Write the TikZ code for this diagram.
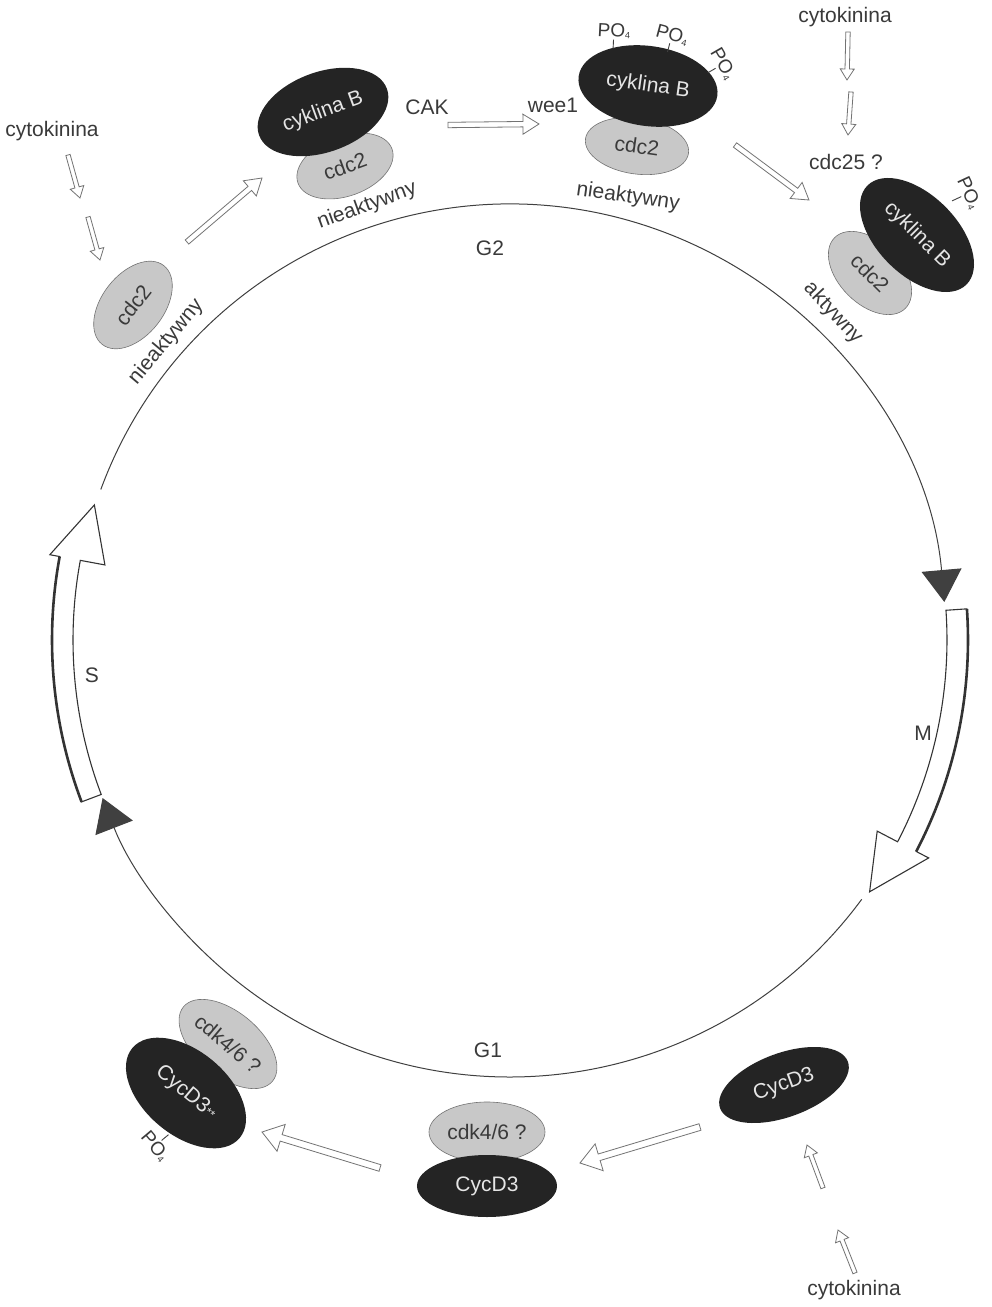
\documentclass[tikz,border=0pt]{standalone}
\usepackage{fontspec}
\setmainfont{Liberation Sans}
\usepackage{tikz}
\usetikzlibrary{shapes.geometric,arrows.meta,positioning,calc}
\definecolor{cycdark}{RGB}{36,36,36}
\definecolor{cdklight}{RGB}{200,200,200}
\definecolor{inkgray}{RGB}{58,58,58}
\newcommand{\phos}{PO\raisebox{-1.5pt}{\fontsize{9}{9}\selectfont 4}}

\tikzset{
  lbl/.style={font=\fontsize{21}{25}\selectfont, text=inkgray, inner sep=1pt},
  phoslbl/.style={font=\fontsize{19}{22}\selectfont, text=inkgray, inner sep=1pt},
  darkcyc/.style={ellipse, fill=cycdark, text=white!90!black, inner sep=0pt, font=\fontsize{21}{25}\selectfont},
  lightcdk/.style={ellipse, draw=black!55, line width=0.6pt, fill=cdklight, text=inkgray, inner sep=0pt, font=\fontsize{21}{25}\selectfont},
  cycleline/.style={draw=black!75, line width=1pt},
  band/.style={draw=black!80, line width=1.1pt, fill=white, line join=miter},
  bandedge/.style={draw=black!80, line width=2.6pt},
  tickline/.style={draw=black!75, line width=0.9pt},
  % hollow straight arrows: half shaft, head length, half head
  hollow/.style n args={3}{draw=black!55, fill=white, line width=0.8pt, line join=miter,
    to path={($(\tikztostart)!#1!-90:(\tikztotarget)$)
      -- ($(\tikztotarget)!#2!(\tikztostart)!#1!-90:(\tikztotarget)$)
      -- ($(\tikztotarget)!#2!(\tikztostart)!#3!-90:(\tikztotarget)$)
      -- (\tikztotarget)
      -- ($(\tikztotarget)!#2!(\tikztostart)!#3!90:(\tikztotarget)$)
      -- ($(\tikztotarget)!#2!(\tikztostart)!#1!90:(\tikztotarget)$)
      -- ($(\tikztostart)!#1!90:(\tikztotarget)$) -- cycle}},
  smallarrow/.style={hollow={2.2pt}{11pt}{7pt}},
  midarrow/.style={hollow={2.7pt}{16pt}{10pt}},
  bigarrow/.style={hollow={3.4pt}{20pt}{14pt}},
}

\begin{document}
\begin{tikzpicture}[x=1pt, y=1pt]
	\useasboundingbox[fill=white] (-510,-667) rectangle (481,640);
	
	% cell cycle
	\draw[cycleline, -{Triangle[length=32pt,width=40pt]}] (159.8:436) arc[start angle=159.8, end angle=5, radius=436];
	\draw[cycleline, -{Triangle[length=32pt,width=40pt]}] (-36.4:437) arc[start angle=-36.4, end angle=-158.8, radius=437];
	\draw[band] (200.7:437) arc[start angle=200.7, end angle=169.5, radius=437] -- (169.5:412) -- (162:437) -- (169.5:468) -- (169.5:458) arc[start angle=169.5, end angle=200.7, radius=458] -- cycle;
	\draw[bandedge] (169.5:458) arc[start angle=169.5, end angle=200.7, radius=458];
	\draw[band] (3.9:437) arc[start angle=3.9, end angle=-27.5, radius=437] -- (-27.5:414) -- (-35:439) -- (-27.5:472) -- (-27.5:458) arc[start angle=-27.5, end angle=3.9, radius=458] -- cycle;
	\draw[bandedge] (-27.5:458) arc[start angle=-27.5, end angle=3.9, radius=458];
	
	\node[lbl] (gtwo) at (-20,392) {G2};
	\node[lbl] (mphase) at (413,-93) {M};
	\node[lbl] (gone) at (-22,-410) {G1};
	\node[lbl] (sphase) at (-418,-35) {S};
	
	% G2: cdc2 + cyklina B
	\node[lbl] (cytA) at (-458,509) {cytokinina};
	\node[lightcdk, minimum width=100pt, minimum height=62pt, rotate=52] (cdcfree) at (-377,335) {cdc2};
	\node[lbl, rotate=50] (nieA) at (-344,298) {nieaktywny};
	
	\node[lightcdk, minimum width=100pt, minimum height=60pt, rotate=20] (cdcA) at (-165,474) {cdc2};
	\node[darkcyc, minimum width=136pt, minimum height=80pt, rotate=20] (cykA) at (-187,528) {cyklina B};
	\node[lbl, rotate=20] (nieB) at (-143,434) {nieaktywny};
	\node[lbl] (cak) at (-83,533) {CAK};
	\node[lbl] (wee) at (43,535) {wee1};
	
	\node[lightcdk, minimum width=104pt, minimum height=56pt, rotate=-8] (cdcB) at (127,494) {cdc2};
	\node[darkcyc, minimum width=140pt, minimum height=80pt, rotate=-8] (cykB) at (138,554) {cyklina B};
	\node[lbl, rotate=-8] (nieC) at (118,443) {nieaktywny};
	\node[phoslbl, rotate=-3] (poA) at (104,609) {\phos};
	\node[phoslbl, rotate=-15] (poB) at (162,605) {\phos};
	\node[phoslbl, rotate=-60] (poC) at (213,576) {\phos};
	\draw[tickline] (poA.south) -- ($(poA.south)!-9pt!(poA.center)$);
	\draw[tickline] (poB.south) -- ($(poB.south)!-9pt!(poB.center)$);
	\draw[tickline] (poC.south) -- ($(poC.south)!-9pt!(poC.center)$);
	
	\node[lbl] (cytB) at (335,623) {cytokinina};
	\node[lbl] (cdcq) at (336,478) {cdc25 ?};
	\node[lightcdk, minimum width=100pt, minimum height=62pt, rotate=-45] (cdcC) at (360,367) {cdc2};
	\node[darkcyc, minimum width=140pt, minimum height=80pt, rotate=-45] (cykC) at (407,405) {cyklina B};
	\node[lbl, rotate=-47] (akt) at (323,327) {aktywny};
	\node[phoslbl, rotate=-65] (poE) at (459,447) {\phos};
	\draw[tickline] (poE.south) -- ($(poE.south)!-10pt!(poE.center)$);
	
	% G1: CycD3 + cdk4/6
	\node[darkcyc, minimum width=136pt, minimum height=64pt, rotate=20] (cycA) at (274,-445) {CycD3};
	\node[lbl] (cytC) at (344,-650) {cytokinina};
	\node[lightcdk, minimum width=116pt, minimum height=60pt] (cdkA) at (-23,-492) {cdk4/6 ?};
	\node[darkcyc, minimum width=140pt, minimum height=62pt] (cycB) at (-23,-546) {CycD3};
	\node[lightcdk, minimum width=116pt, minimum height=64pt, rotate=-40] (cdkB) at (-282,-404) {cdk4/6 ?};
	\node[darkcyc, minimum width=140pt, minimum height=84pt, rotate=-40] (cycC) at (-324,-453) {CycD3\raisebox{1pt}{\fontsize{12}{12}\selectfont **}};
	\node[phoslbl, rotate=-50] (poD) at (-355,-506) {\phos};
	\draw[tickline] (poD.north) -- ($(poD.north)!-9pt!(poD.center)$);
	
	% hollow arrows
	\coordinate (h1s) at (-442,485); \coordinate (h1e) at (-430,442);
	\coordinate (h2s) at (-422,423); \coordinate (h2e) at (-410,380);
	\coordinate (h3s) at (-323,398); \coordinate (h3e) at (-248,462);
	\coordinate (h4s) at (-62,515);  \coordinate (h4e) at (29,516);
	\coordinate (h5s) at (225,495);  \coordinate (h5e) at (299,440);
	\coordinate (h6s) at (338,608);  \coordinate (h6e) at (337,560);
	\coordinate (h7s) at (341,548);  \coordinate (h7e) at (338,505);
	\coordinate (h8s) at (-130,-528); \coordinate (h8e) at (-248,-492);
	\coordinate (h9s) at (190,-487); \coordinate (h9e) at (70,-523);
	\coordinate (h10s) at (313,-548); \coordinate (h10e) at (297,-505);
	\coordinate (h11s) at (345,-633); \coordinate (h11e) at (328,-590);
	\draw[smallarrow] (h1s) to (h1e);
	\draw[smallarrow] (h2s) to (h2e);
	\draw[midarrow] (h3s) to (h3e);
	\draw[midarrow] (h4s) to (h4e);
	\draw[midarrow] (h5s) to (h5e);
	\draw[smallarrow] (h6s) to (h6e);
	\draw[smallarrow] (h7s) to (h7e);
	\draw[bigarrow] (h8s) to (h8e);
	\draw[bigarrow] (h9s) to (h9e);
	\draw[smallarrow] (h10s) to (h10e);
	\draw[smallarrow] (h11s) to (h11e);
\end{tikzpicture}
\end{document}
